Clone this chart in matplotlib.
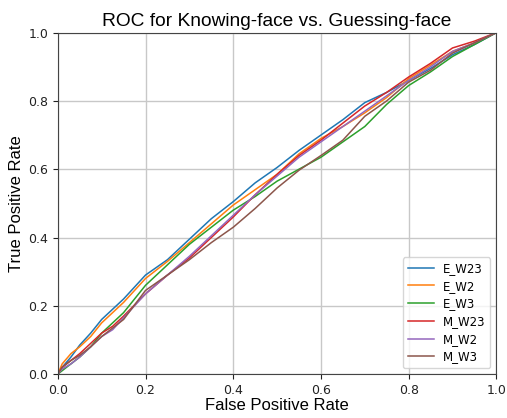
import numpy as np
import matplotlib
matplotlib.use("Agg")
import matplotlib.pyplot as plt

# false positive rate sample points (shared by all curves)
fpr = [0, 0.01, 0.03, 0.05, 0.075, 0.1, 0.125, 0.15, 0.2, 0.25, 0.3, 0.35,
       0.4, 0.45, 0.5, 0.55, 0.6, 0.65, 0.7, 0.75, 0.8, 0.85, 0.9, 0.95, 1.0]

# true positive rates
tpr_e_w23 = [0, 0.02, 0.05, 0.085, 0.12, 0.16, 0.19, 0.22, 0.29, 0.335, 0.395, 0.455,
             0.505, 0.56, 0.605, 0.655, 0.70, 0.745, 0.795, 0.825, 0.86, 0.895, 0.935, 0.965, 1.0]
tpr_e_w2 = [0, 0.03, 0.06, 0.08, 0.11, 0.15, 0.18, 0.21, 0.28, 0.33, 0.385, 0.44,
            0.495, 0.54, 0.585, 0.645, 0.69, 0.725, 0.765, 0.81, 0.865, 0.905, 0.945, 0.97, 1.0]
tpr_e_w3 = [0, 0.01, 0.03, 0.05, 0.08, 0.12, 0.15, 0.18, 0.26, 0.32, 0.38, 0.43,
            0.48, 0.52, 0.565, 0.60, 0.635, 0.68, 0.725, 0.79, 0.845, 0.885, 0.93, 0.965, 1.0]
tpr_m_w23 = [0, 0.02, 0.04, 0.06, 0.09, 0.12, 0.14, 0.17, 0.235, 0.29, 0.34, 0.40,
             0.46, 0.525, 0.585, 0.64, 0.685, 0.735, 0.785, 0.825, 0.87, 0.91, 0.955, 0.975, 1.0]
tpr_m_w2 = [0, 0.015, 0.03, 0.05, 0.08, 0.11, 0.13, 0.165, 0.235, 0.29, 0.345, 0.405,
            0.465, 0.525, 0.58, 0.635, 0.68, 0.725, 0.77, 0.815, 0.86, 0.9, 0.945, 0.97, 1.0]
tpr_m_w3 = [0, 0.02, 0.04, 0.055, 0.08, 0.11, 0.135, 0.16, 0.245, 0.29, 0.335, 0.385,
            0.43, 0.485, 0.545, 0.597, 0.64, 0.685, 0.755, 0.80, 0.855, 0.89, 0.94, 0.97, 1.0]

labels = ["E_W23", "E_W2", "E_W3", "M_W23", "M_W2", "M_W3"]
curves = [tpr_e_w23, tpr_e_w2, tpr_e_w3, tpr_m_w23, tpr_m_w2, tpr_m_w3]

fig = plt.figure(figsize=(5.07, 4.18), dpi=100)
ax = fig.add_axes([0.114, 0.105, 0.865, 0.817])

for lab, tpr in zip(labels, curves):
    ax.plot(fpr, tpr, lw=1.1, label=lab)

ax.set_xlim(0, 1)
ax.set_ylim(0, 1)
ax.grid(color='#c8c8c8', lw=1.0)
ax.set_axisbelow(True)
ax.tick_params(labelsize=9, colors='#222222')
for sp in ax.spines.values():
    sp.set_color('#444444')

lab_font = dict(family=['Liberation Sans', 'DejaVu Sans'], fontsize=12)
ax.set_xlabel("False Positive Rate", labelpad=1, **lab_font)
ax.set_ylabel("True Positive Rate", labelpad=3, **lab_font)
ax.set_title("ROC for Knowing-face vs. Guessing-face",
             family=['Liberation Sans', 'DejaVu Sans'], fontsize=13.8, pad=5)

ax.legend(loc='lower right', fontsize=8.5, handlelength=2.2, labelspacing=0.4)

fig.savefig("out.png", dpi=100)
